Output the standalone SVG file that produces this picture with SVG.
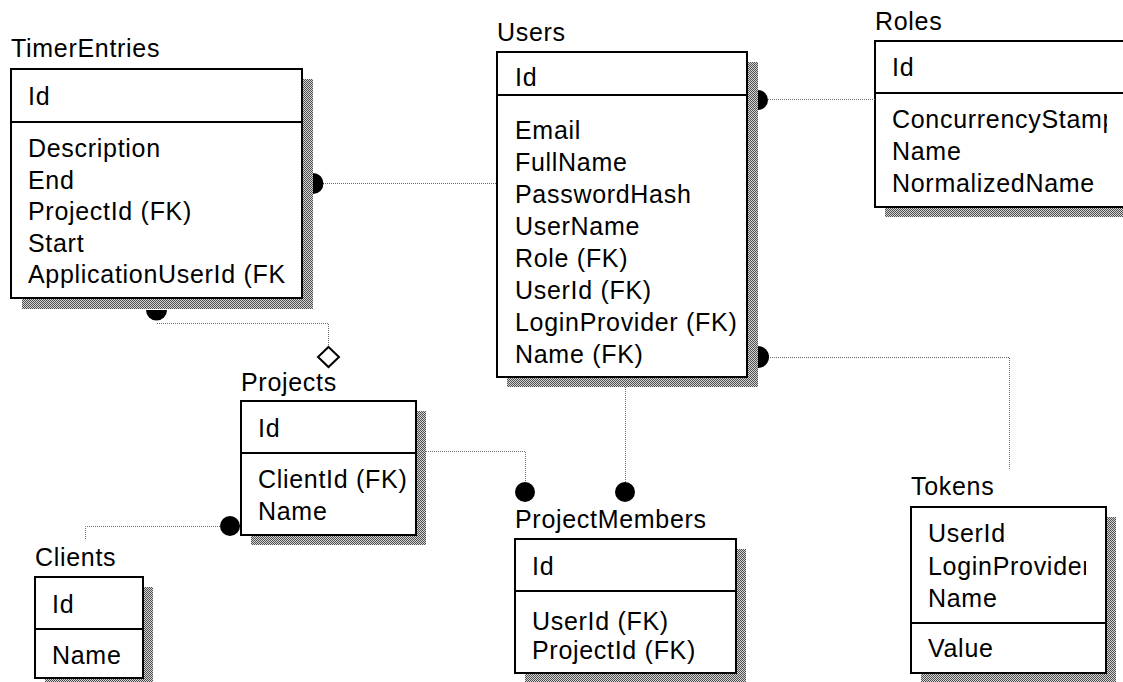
<svg xmlns="http://www.w3.org/2000/svg" width="1123" height="682" viewBox="0 0 1123 682">
<defs>
<pattern id="chk" width="2" height="2" patternUnits="userSpaceOnUse">
<rect width="2" height="2" fill="#d4d4d4"/>
<rect width="1" height="1" fill="#505050"/>
<rect x="1" y="1" width="1" height="1" fill="#505050"/>
</pattern>
<clipPath id="clipRoles"><rect x="875" y="41" width="232" height="170"/></clipPath>
<clipPath id="clipTokens"><rect x="911" y="507" width="175" height="170"/></clipPath>
</defs>
<style>
text{font-family:"Liberation Sans",Arial,sans-serif;font-size:25px;letter-spacing:0.7px;fill:#000}
.box{fill:#fff;stroke:#000;stroke-width:2}
.shadow{fill:url(#chk)}
.sep{stroke:#000;stroke-width:2}
.conn{fill:none;stroke:#6a6a6a;stroke-width:1;stroke-dasharray:1 1}
.dot{fill:#000}
.dia{fill:#fff;stroke:#000;stroke-width:2}
</style>
<rect width="1123" height="682" fill="#fff"/>

<g id="TimerEntries">
<rect class="shadow" x="22" y="79" width="291" height="230"/>
<rect class="box" x="11" y="69" width="291" height="229"/>
<line class="sep" x1="11" y1="122" x2="302" y2="122"/>
<text x="11" y="57">TimerEntries</text>
<text x="28" y="105">Id</text>
<text x="28" y="157">Description</text>
<text x="28" y="189">End</text>
<text x="28" y="220">ProjectId (FK)</text>
<text x="28" y="252">Start</text>
<text x="28" y="283">ApplicationUserId (FK</text>
</g>

<g id="Users">
<rect class="shadow" x="507" y="62" width="251" height="325"/>
<rect class="box" x="497" y="52" width="250" height="325"/>
<line class="sep" x1="497" y1="95" x2="747" y2="95"/>
<text x="497" y="41">Users</text>
<text x="515" y="86">Id</text>
<text x="515" y="139">Email</text>
<text x="515" y="171">FullName</text>
<text x="515" y="203">PasswordHash</text>
<text x="515" y="235">UserName</text>
<text x="515" y="267">Role (FK)</text>
<text x="515" y="299">UserId (FK)</text>
<text x="515" y="331">LoginProvider (FK)</text>
<text x="515" y="363">Name (FK)</text>
</g>

<g id="Roles">
<rect class="shadow" x="885" y="51" width="250" height="166"/>
<rect class="box" x="875" y="41" width="250" height="166"/>
<line class="sep" x1="875" y1="93" x2="1125" y2="93"/>
<text x="875" y="30">Roles</text>
<g clip-path="url(#clipRoles)">
<text x="892" y="76">Id</text>
<text x="892" y="128">ConcurrencyStamp</text>
<text x="892" y="160">Name</text>
<text x="892" y="192">NormalizedName</text>
</g>
</g>

<g id="Projects">
<rect class="shadow" x="251" y="411" width="175" height="134"/>
<rect class="box" x="241" y="401" width="175" height="134"/>
<line class="sep" x1="241" y1="453" x2="416" y2="453"/>
<text x="241" y="391">Projects</text>
<text x="258" y="437">Id</text>
<text x="258" y="488">ClientId (FK)</text>
<text x="258" y="520">Name</text>
</g>

<g id="Clients">
<rect class="shadow" x="45" y="587" width="108" height="101"/>
<rect class="box" x="35" y="577" width="108" height="101"/>
<line class="sep" x1="35" y1="629" x2="143" y2="629"/>
<text x="35" y="566">Clients</text>
<text x="52" y="613">Id</text>
<text x="52" y="664">Name</text>
</g>

<g id="ProjectMembers">
<rect class="shadow" x="525" y="549" width="221" height="134"/>
<rect class="box" x="515" y="539" width="221" height="134"/>
<line class="sep" x1="515" y1="591" x2="736" y2="591"/>
<text x="515" y="528">ProjectMembers</text>
<text x="532" y="575">Id</text>
<text x="532" y="630">UserId (FK)</text>
<text x="532" y="659">ProjectId (FK)</text>
</g>

<g id="Tokens">
<rect class="shadow" x="921" y="517" width="195" height="166"/>
<rect class="box" x="911" y="507" width="195" height="166"/>
<line class="sep" x1="911" y1="623" x2="1106" y2="623"/>
<text x="911" y="495">Tokens</text>
<g clip-path="url(#clipTokens)">
<text x="928" y="542">UserId</text>
<text x="928" y="575">LoginProvider</text>
<text x="928" y="607">Name</text>
</g>
<text x="928" y="657">Value</text>
</g>

<g id="connectors">
<path class="conn" d="M323 183.5 H497"/>
<path class="dot" d="M313 173 A10.5 10.5 0 0 1 313 194 Z"/>
<path class="conn" d="M768 99.5 H875"/>
<path class="dot" d="M758 90 A10 10 0 0 1 758 110 Z"/>
<path class="conn" d="M768 357.5 H1009.5 V470"/>
<path class="dot" d="M758 346 A11 11 0 0 1 758 368 Z"/>
<path class="conn" d="M157 323.5 H328.5 V347"/>
<path class="dot" d="M146 310 A10.5 10.5 0 0 0 167 310 Z"/>
<path class="dia" d="M328.5 347 L339 357 L328.5 367 L318 357 Z"/>
<path class="conn" d="M220 526.5 H85.5 V540"/>
<circle class="dot" cx="230" cy="526" r="10"/>
<path class="conn" d="M426 451.5 H525.5 V482"/>
<circle class="dot" cx="525" cy="492" r="10"/>
<path class="conn" d="M625.5 387 V482"/>
<circle class="dot" cx="625" cy="492" r="10"/>
</g>
</svg>
